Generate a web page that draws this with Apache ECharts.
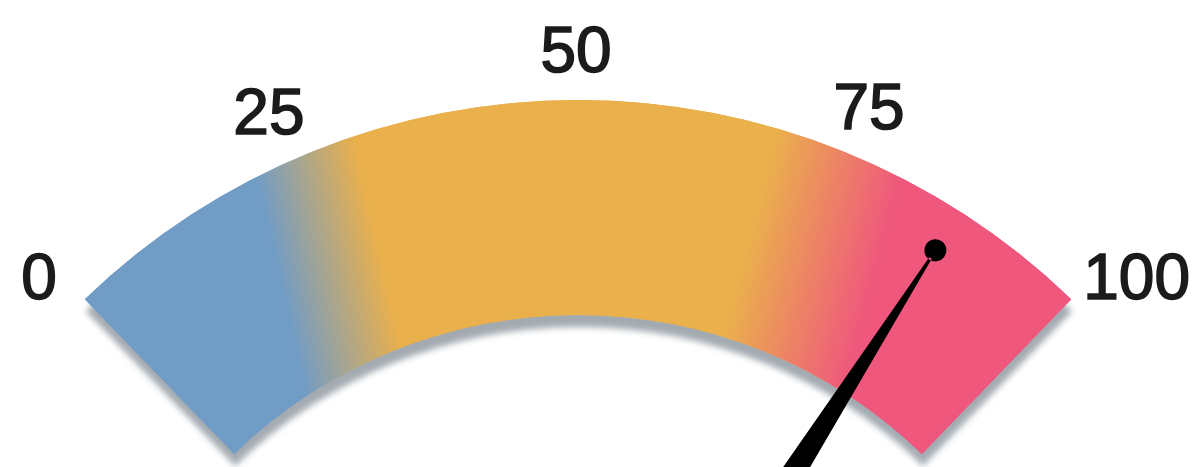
<!DOCTYPE html>
<html>
<head>
<meta charset="utf-8">
<script src="https://cdn.jsdelivr.net/npm/echarts@6/dist/echarts.min.js"></script>
<style>
  html, body { margin: 0; padding: 0; background: #ffffff; }
  #chart { width: 1192px; height: 467px; }
</style>
</head>
<body>
<div id="chart"></div>
<script>
// ---- data ----
const tickValues = [0, 25, 50, 75, 100];
const tickLabels = ['0', '25', '50', '75', '100'];
const needleValue = 87;
const gaugeMin = 0;
const gaugeMax = 100;
const bandColors = ['#719CC6', '#EAB04C', '#EF577D']; // blue, orange, pink

// ---- layout / style ----
const CX = 578, CY = 810, R = 710, BAND = 215;
const START = 134, END = 46;

const gradBlueOrange = {
  type: 'linear', x: 278, y: 275, x2: 380, y2: 252, global: true,
  colorStops: [{ offset: 0, color: bandColors[0] }, { offset: 1, color: bandColors[1] }]
};
const gradOrangePink = {
  type: 'linear', x: 755, y: 215, x2: 884, y2: 249, global: true,
  colorStops: [{ offset: 0, color: bandColors[1] }, { offset: 1, color: bandColors[2] }]
};
const gradUnder = {
  type: 'linear', x: 0, y: 0, x2: 1192, y2: 0, global: true,
  colorStops: [
    { offset: 0, color: bandColors[0] }, { offset: 0.24, color: bandColors[0] },
    { offset: 0.31, color: bandColors[1] }, { offset: 0.65, color: bandColors[1] },
    { offset: 0.73, color: bandColors[2] }, { offset: 1, color: bandColors[2] }
  ]
};
const bandSegments = [[0.5, gradBlueOrange], [1, gradOrangePink]];

const needlePath = 'path://M16.5 11A11 11 0 1 0 38.5 11A11 11 0 1 0 16.5 11Z' +
  'M26 20L29 20L55 675L0 675Z';

// per-label nudges (label styles)
const labelRich = {
  l0:   { padding: [0, 35, 3, 0] },
  l25:  { padding: [0, 0, 0, 0] },
  l50:  { padding: [0, 0, 2, 14] },
  l75:  { padding: [0, 0, 5, 0] },
  l100: { padding: [0, 0, 3, 37] }
};
const labelFont = {
  fontSize: 64, fontWeight: 'normal', fontFamily: 'Liberation Sans, Arial, sans-serif',
  color: '#1b1b1b', textBorderColor: '#1b1b1b', textBorderWidth: 1.6
};
Object.keys(labelRich).forEach(function (k) { Object.assign(labelRich[k], labelFont); });

const hidden = {
  axisTick: { show: false }, splitLine: { show: false, length: 0, distance: 0 },
  axisLabel: { show: false }, title: { show: false }, detail: { show: false },
  anchor: { show: false }
};

const chart = echarts.init(document.getElementById('chart'), null, { renderer: 'canvas' });
chart.setOption({
  animation: false,
  backgroundColor: '#ffffff',
  polar: { center: [569, 701], radius: 601 },
  angleAxis: {
    type: 'value', min: 0, max: 352.1, interval: 25,
    startAngle: 141.12, clockwise: true,
    axisLine: { show: false }, axisTick: { show: false }, splitLine: { show: false },
    axisLabel: Object.assign({
      margin: 12,
      rich: labelRich,
      formatter: function (v) {
        const i = tickValues.indexOf(v);
        return i >= 0 ? '{l' + tickValues[i] + '|' + tickLabels[i] + '}' : '';
      }
    }, labelFont)
  },
  radiusAxis: { show: false, min: 0, max: 1 },
  series: [
    Object.assign({
      type: 'gauge', center: [CX, CY], radius: R, startAngle: START, endAngle: END,
      min: gaugeMin, max: gaugeMax, silent: true, z: 1,
      axisLine: { lineStyle: { width: BAND, color: [[1, gradUnder]],
        shadowColor: 'rgba(158,166,173,0.95)', shadowBlur: 6, shadowOffsetX: 1, shadowOffsetY: 12 } },
      pointer: { show: false },
      data: [{ value: needleValue }]
    }, hidden),
    Object.assign({
      type: 'gauge', center: [CX, CY], radius: R, startAngle: START, endAngle: END,
      min: gaugeMin, max: gaugeMax, silent: true, z: 2,
      axisLine: { lineStyle: { width: BAND, color: bandSegments } },
      pointer: { show: true, icon: needlePath, length: 675, width: 55, offsetCenter: [0, 0],
        itemStyle: { color: '#000000' } },
      data: [{ value: needleValue }]
    }, hidden)
  ]
});
</script>
</body>
</html>
